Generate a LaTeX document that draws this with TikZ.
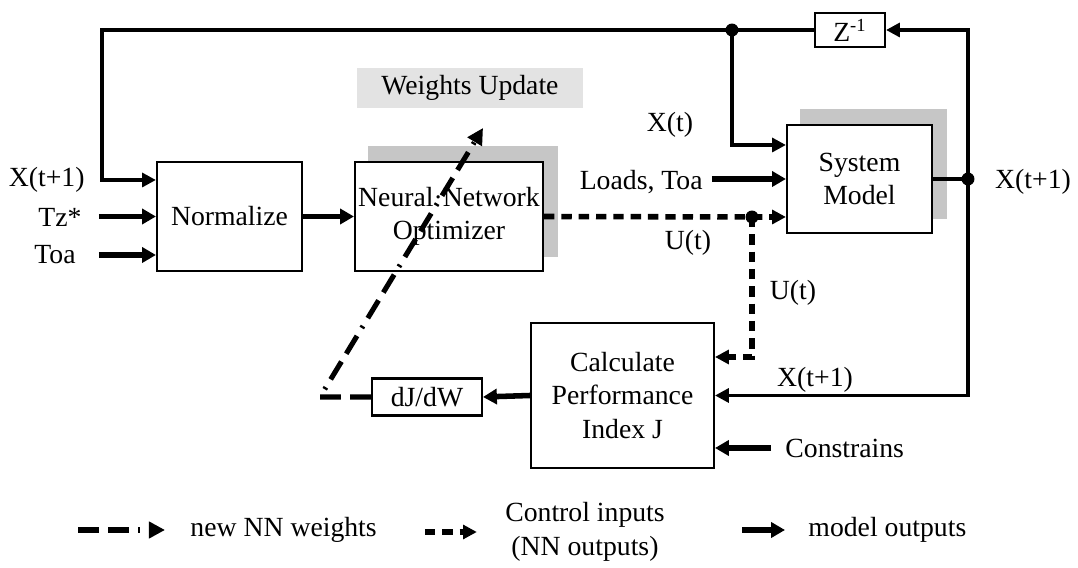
\documentclass[tikz,border=0pt]{standalone}
\usepackage{fontspec}
\setmainfont{Liberation Serif}
\usetikzlibrary{positioning, calc, arrows.meta, backgrounds}

\begin{document}
\begin{tikzpicture}[
    x=0.433pt, y=-0.433pt,
    every node/.style={font=\fontsize{12}{14.5}\selectfont},
    blockbox/.style={rectangle, draw, line width=0.9pt, fill=white,
                     align=center, inner sep=0pt},
    lbl/.style={inner sep=0pt},
    sigline/.style={line width=1.6pt},
    sigarrow/.style={-{Triangle[length=6pt,width=6pt]}, line width=1.6pt},
    heavyarrow/.style={-{Triangle[length=6pt,width=6.5pt]}, line width=2.4pt},
    ctrlarrow/.style={-{Triangle[length=6pt,width=6pt]}, line width=2.4pt,
                      dash pattern=on 4.5pt off 3pt},
    wtarrow/.style={-{Triangle[length=7pt,width=7pt]}, line width=2.2pt,
                    dash pattern=on 9pt off 4pt on 9pt off 4pt on 1pt off 4pt},
    junc/.style={circle, fill, inner sep=0pt, minimum size=5.6pt},
    shade/.style={fill=gray!45, draw=none},
  ]
    \useasboundingbox (0,0) rectangle (1078,568);

    % blocks
    \node[blockbox, minimum width=62.8pt, minimum height=47.2pt] (norm) at (229.5,216.5) {Normalize};
    \node[blockbox, minimum width=81.4pt, minimum height=47.2pt] (nn) at (449,216.5) {Neural·Network\\Optimizer};
    \node[blockbox, minimum width=62.8pt, minimum height=46.8pt] (sys) at (859.5,179) {System\\Model};
    \node[blockbox, minimum width=30.3pt, minimum height=14.7pt] (zinv) at (850,30) {Z\textsuperscript{-1}};
    \node[blockbox, minimum width=79.2pt, minimum height=62.8pt] (calc) at (622.5,395.5) {Calculate\\Performance\\Index J};
    \node[blockbox, minimum width=47.6pt, minimum height=16pt] (djdw) at (427,397) {dJ/dW};
    \node[fill=gray!22, minimum width=98pt, minimum height=16pt] (wu) at (470,88) {Weights Update};

    \begin{scope}[on background layer]
      \fill[shade] ($(nn.south west)+(14,-15)$) rectangle ($(nn.north east)+(14,-15)$);
      \fill[shade] ($(sys.south west)+(14,-15)$) rectangle ($(sys.north east)+(14,-15)$);
    \end{scope}

    % junctions
    \node[junc] (jtop) at (732,30) {};
    \node[junc] (jout) at (968,179) {};
    \node[junc] (ju) at (752,217) {};
    \coordinate (tl) at (102,30);
    \coordinate (wc) at (320,397);
    \coordinate (wtip) at (483,128);

    % labels
    \node[lbl, anchor=east] (xin) at (85,180) {X(t+1)};
    \node[lbl, anchor=east] (tz) at (82,217) {Tz*};
    \node[lbl, anchor=east] (toa) at (76,255) {Toa};
    \node[lbl] (xt) at (670,125) {X(t)};
    \node[lbl, anchor=east] (loads) at (703,182) {Loads, Toa};
    \node[lbl] (ut1) at (688,243) {U(t)};
    \node[lbl] (ut2) at (793,293) {U(t)};
    \node[lbl] (xcalc) at (815,380) {X(t+1)};
    \node[lbl] (xout) at (1033,182) {X(t+1)};
    \node[lbl, anchor=west] (cons) at (785,448) {Constrains};

    % signals
    \draw[sigarrow] (zinv.west) -- (jtop.center) -- (tl) |- ($(norm.west)+(0,-36.5)$);
    \draw[sigarrow] (jtop.center) |- ($(sys.west)+(0,-34)$);
    \draw[heavyarrow] ($(norm.west)+(-57,0)$) -- (norm.west);
    \draw[heavyarrow] ($(norm.west)+(-57,38.5)$) -- ($(norm.west)+(0,38.5)$);
    \draw[heavyarrow] (norm.east) -- (nn.west);
    \draw[heavyarrow] ($(sys.west)+(-74,0)$) -- (sys.west);
    \draw[ctrlarrow] (nn.east) -- (ju.center) -- ($(sys.west)+(0,38)$);
    \draw[ctrlarrow] (ju.center) |- ($(calc.east)+(0,-38.5)$);
    \draw[sigline] (sys.east) -- (jout.center);
    \draw[sigarrow] (jout.center) |- (zinv.east);
    \draw[sigarrow] (jout.center) |- (calc.east);
    \draw[heavyarrow] ($(calc.east)+(56,52.5)$) -- ($(calc.east)+(0,52.5)$);
    \draw[heavyarrow] (calc.west) -- (djdw.east);
    \draw[wtarrow] (djdw.west) -- (wc) -- (wtip);

    % legend
    \node[lbl, anchor=west] (lgw) at (190,530) {new NN weights};
    \node[lbl, align=center] (lgc) at (585,532) {Control inputs\\(NN outputs)};
    \node[lbl, anchor=west] (lgm) at (808,530) {model outputs};
    \draw[wtarrow] ($(lgw.west)+(-112,0)$) -- ($(lgw.west)+(-25,0)$);
    \draw[ctrlarrow] ($(lgc.west)+(-80,0)$) -- ($(lgc.west)+(-28,0)$);
    \draw[heavyarrow] ($(lgm.west)+(-66,0)$) -- ($(lgm.west)+(-23,0)$);
\end{tikzpicture}
\end{document}
